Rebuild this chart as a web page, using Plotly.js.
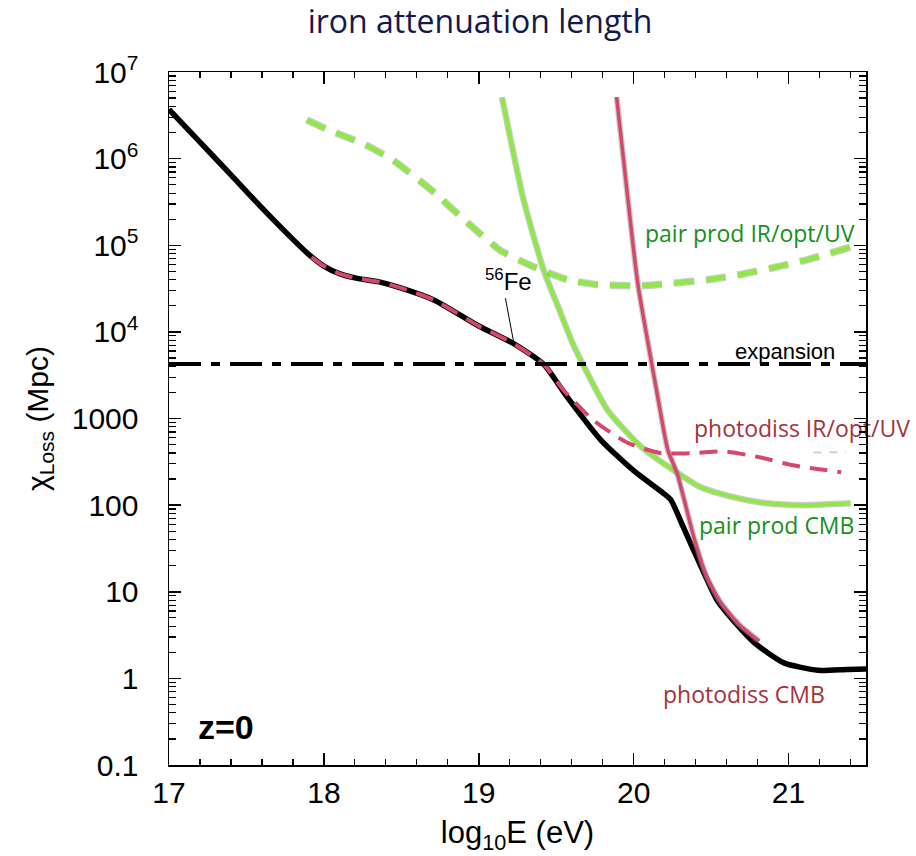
<!DOCTYPE html>
<html>
<head>
<meta charset="utf-8">
<script src="https://cdn.plot.ly/plotly-3.0.1.min.js"></script>
<style>
html,body{margin:0;padding:0;background:#fff;}
#wrap{position:relative;width:916px;height:856px;}
#axes,#marks,#ticks{position:absolute;left:0;top:0;width:916px;height:856px;}
</style>
</head>
<body>
<div id="wrap"><div id="axes"></div><div id="marks"></div><div id="ticks"></div></div>
<script>
// ---- data (log10 E in eV, attenuation length in Mpc) ----
const totalX = [17.0, 17.2, 17.4, 17.6, 17.8, 17.9, 18.0, 18.1, 18.2, 18.35, 18.5, 18.71, 19.0, 19.22, 19.42, 19.57, 19.79, 20.0, 20.19, 20.24, 20.32, 20.43, 20.54, 20.65, 20.78, 20.97, 21.19, 21.38, 21.5];
const totalY = [3.7e6, 1.55e6, 6.5e5, 2.7e5, 1.17e5, 7.9e4, 5.75e4, 4.7e4, 4.2e4, 3.8e4, 3.2e4, 2.34e4, 1.17e4, 7.4e3, 4.2e3, 1.78e3, 560, 250, 138, 115, 56, 20.4, 7.9, 4.5, 2.57, 1.51, 1.24, 1.27, 1.28];

const pdIRX = [17.92, 18.0, 18.1, 18.2, 18.35, 18.5, 18.71, 19.0, 19.22, 19.42, 19.55, 19.74, 19.96, 20.17, 20.4, 20.58, 20.82, 21.03, 21.34];
const pdIRY = [7.3e4, 5.75e4, 4.7e4, 4.2e4, 3.8e4, 3.2e4, 2.34e4, 1.17e4, 7.4e3, 4.2e3, 2.1e3, 955, 525, 400, 400, 417, 355, 288, 240];

const ghostX = [21.16, 21.37];
const ghostY = [405, 410];

const pdCMBX = [19.89, 19.95, 20.0, 20.03, 20.11, 20.16, 20.22, 20.28, 20.39, 20.47, 20.56, 20.68, 20.81];
const pdCMBY = [5.13e6, 5.5e5, 8.7e4, 3.3e4, 5.0e3, 1.6e3, 437, 234, 41.7, 15.1, 7.6, 4.2, 2.7];

const ppCMBX = [19.15, 19.29, 19.42, 19.51, 19.61, 19.67, 19.83, 20.05, 20.26, 20.43, 20.65, 20.86, 21.1, 21.4];
const ppCMBY = [5.1e6, 3.3e5, 5.1e4, 2.0e4, 7.1e3, 4.3e3, 1.26e3, 468, 251, 162, 123, 105, 100, 105];

const ppIRX = [17.89, 18.04, 18.25, 18.45, 18.69, 18.93, 19.14, 19.33, 19.57, 19.77, 20.04, 20.22, 20.48, 20.69, 20.90, 21.12, 21.40];
const ppIRY = [2.8e6, 2.1e6, 1.5e6, 9.5e5, 4.4e5, 1.8e5, 8.7e4, 5.9e4, 4.0e4, 3.5e4, 3.4e4, 3.6e4, 4.0e4, 4.6e4, 5.5e4, 6.8e4, 9.5e4];

const expansionX = [17.0, 21.5];
const expansionY = [4250, 4250];

const fePointerX = [19.172, 19.224];
const fePointerY = [2.45e4, 7.8e3];

const yTickVals = [0.1, 1, 10, 100, 1000, 1e4, 1e5, 1e6, 1e7];
const yTickText = ['0.1', '1', '10', '100', '1000', '10<sup>4</sup>', '10<sup>5</sup>', '10<sup>6</sup>', '10<sup>7</sup>'];
const xTickVals = [17, 18, 19, 20, 21];

// ---- styles ----
const GREEN = '#8fe845';
const PINK = '#d4486c';
const HALO = 'rgba(140,140,140,0.45)';
const MARGIN = {l: 169, r: 50, t: 72, b: 91};
const XRANGE = [17, 21.5];
const YRANGE = [-1, 7];

function line(x, y, color, width, dash, smooth) {
  return {x: x, y: y, type: 'scatter', mode: 'lines', hoverinfo: 'skip', showlegend: false,
          line: {color: color, width: width, dash: dash || 'solid', shape: 'spline', smoothing: smooth || 0.6}};
}

const tickFont = {family: 'Liberation Sans, Arial, sans-serif', size: 30, color: '#000'};
const xMinor = {dtick: 0.2, ticks: 'inside', ticklen: 6, tickwidth: 1.2, tickcolor: '#000', showgrid: false};
const yMinor = {dtick: 'D1', ticks: 'inside', ticklen: 7, tickwidth: 1.2, tickcolor: '#000', showgrid: false};

// ---- layer 1: frame, tick labels, titles, total curve ----
const axesLayout = {
  width: 916, height: 856, margin: MARGIN,
  paper_bgcolor: '#ffffff', plot_bgcolor: '#ffffff', showlegend: false,
  title: {text: 'iron attenuation length', x: 0.524, xanchor: 'center', y: 0.974, yanchor: 'middle',
          font: {family: 'Open Sans', size: 32, color: '#141850'}},
  xaxis: {type: 'linear', range: XRANGE, tickmode: 'array', tickvals: xTickVals,
    ticks: 'inside', ticklen: 12, tickwidth: 1.5, tickcolor: '#000', minor: xMinor,
    showline: true, linecolor: '#000', linewidth: 1.5, mirror: 'allticks',
    showgrid: false, zeroline: false, tickfont: tickFont,
    title: {text: 'log<sub>10</sub>E (eV)', font: {family: 'Liberation Sans', size: 31, color: '#000'}, standoff: 14}},
  yaxis: {type: 'log', range: YRANGE, tickmode: 'array', tickvals: yTickVals, ticktext: yTickText,
    ticks: 'inside', ticklen: 12, tickwidth: 1.5, tickcolor: '#000', minor: yMinor,
    showline: true, linecolor: '#000', linewidth: 1.5, mirror: 'allticks',
    showgrid: false, zeroline: false, tickfont: tickFont, ticklabelstandoff: 23,
    title: {text: '\u03c7<sub>Loss</sub> (Mpc)', font: {family: 'Liberation Sans', size: 30, color: '#000'}, standoff: 14}}
};
const axesTraces = [
  {x: totalX, y: totalY, type: 'scatter', mode: 'lines', hoverinfo: 'skip', showlegend: false,
   line: {color: '#000', width: 5.5, shape: 'spline', smoothing: 0.6}}
];

// ---- layer 2: component curves and labels, on identical hidden axes ----
const hiddenAxis = {showline: false, ticks: '', showticklabels: false, showgrid: false, zeroline: false};
const marksLayout = {
  width: 916, height: 856, margin: MARGIN,
  paper_bgcolor: 'rgba(0,0,0,0)', plot_bgcolor: 'rgba(0,0,0,0)', showlegend: false,
  xaxis: Object.assign({type: 'linear', range: XRANGE}, hiddenAxis),
  yaxis: Object.assign({type: 'log', range: YRANGE}, hiddenAxis),
  annotations: [
    {xref: 'paper', yref: 'paper', x: 0.8336, y: 0.7677, text: 'pair prod IR/opt/UV', showarrow: false, xanchor: 'center', yanchor: 'middle', font: {family: 'Open Sans', size: 23, color: '#17901a'}},
    {xref: 'paper', yref: 'paper', x: 0.908, y: 0.4863, text: 'photodiss IR/opt/UV', showarrow: false, xanchor: 'center', yanchor: 'middle', font: {family: 'Open Sans', size: 23, color: '#a3343a'}},
    {xref: 'paper', yref: 'paper', x: 0.8723, y: 0.3463, text: 'pair prod CMB', showarrow: false, xanchor: 'center', yanchor: 'middle', font: {family: 'Open Sans', size: 23, color: '#17901a'}},
    {xref: 'paper', yref: 'paper', x: 0.825, y: 0.1025, text: 'photodiss CMB', showarrow: false, xanchor: 'center', yanchor: 'middle', font: {family: 'Open Sans', size: 23, color: '#a3343a'}},
    {xref: 'paper', yref: 'paper', x: 0.8838, y: 0.596, text: 'expansion', showarrow: false, xanchor: 'center', yanchor: 'middle', font: {family: 'Liberation Sans', size: 22, color: '#000'}},
    {xref: 'paper', yref: 'paper', x: 0.4864, y: 0.6999, text: '<sup>56</sup>Fe', showarrow: false, xanchor: 'center', yanchor: 'middle', font: {family: 'Liberation Sans', size: 24, color: '#000'}},
    {xref: 'paper', yref: 'paper', x: 0.0818, y: 0.0548, text: '<b>z=0</b>', showarrow: false, xanchor: 'center', yanchor: 'middle', font: {family: 'Liberation Sans', size: 34, color: '#000'}}
  ]
};
const marksTraces = [
  line(ppIRX, ppIRY, HALO, 7.5, '20px,12px', 0.5),
  line(ppIRX, ppIRY, GREEN, 5, '20px,12px', 0.5),
  line(ppCMBX, ppCMBY, HALO, 6.5),
  line(ppCMBX, ppCMBY, GREEN, 4),
  line(pdCMBX, pdCMBY, HALO, 6),
  line(pdCMBX, pdCMBY, PINK, 3.5),
  line(pdIRX, pdIRY, PINK, 4, '18px,10px'),
  line(ghostX, ghostY, '#d0d0d0', 2, '8px,8px'),
  {x: expansionX, y: expansionY, type: 'scatter', mode: 'lines', hoverinfo: 'skip', showlegend: false,
   line: {color: '#000000', width: 4, dash: '32px,10px,9px,10px'}}
];

// ---- layer 3: tick marks on all four sides (no labels) plus the 56Fe pointer ----
const ticksLayout = {
  width: 916, height: 856, margin: MARGIN,
  paper_bgcolor: 'rgba(0,0,0,0)', plot_bgcolor: 'rgba(0,0,0,0)', showlegend: false,
  xaxis: {type: 'linear', range: XRANGE, tickmode: 'array', tickvals: xTickVals,
    ticks: 'inside', ticklen: 12, tickwidth: 1.5, tickcolor: '#000', minor: xMinor,
    showline: true, linecolor: '#000', linewidth: 1.5, mirror: 'allticks',
    showgrid: false, zeroline: false, showticklabels: false},
  yaxis: {type: 'log', range: YRANGE, tickmode: 'array', tickvals: yTickVals,
    ticks: 'inside', ticklen: 12, tickwidth: 1.5, tickcolor: '#000', minor: yMinor,
    showline: true, linecolor: '#000', linewidth: 1.5, mirror: 'allticks',
    showgrid: false, zeroline: false, showticklabels: false}
};
const ticksTraces = [
  {x: fePointerX, y: fePointerY, type: 'scatter', mode: 'lines', hoverinfo: 'skip', showlegend: false,
   line: {color: '#000000', width: 1}}
];

Plotly.newPlot('axes', axesTraces, axesLayout, {staticPlot: true}).then(function () {
  return Plotly.newPlot('marks', marksTraces, marksLayout, {staticPlot: true});
}).then(function () {
  return Plotly.newPlot('ticks', ticksTraces, ticksLayout, {staticPlot: true});
});
</script>
</body>
</html>
